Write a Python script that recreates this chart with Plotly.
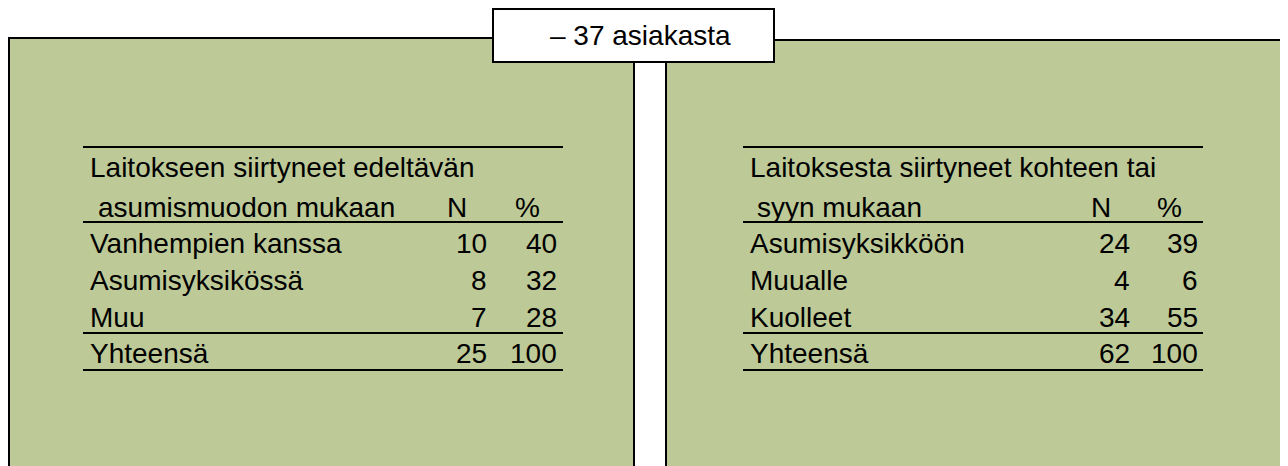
import plotly.graph_objects as go

# ---- data ----
title_text = "– 37 asiakasta"

left_header = ["Laitokseen siirtyneet edeltävän", "asumismuodon mukaan"]
left_rows = ["Vanhempien kanssa", "Asumisyksikössä", "Muu"]
left_n = [10, 8, 7]
left_pct = [40, 32, 28]
left_total_label = "Yhteensä"
left_total_n = 25
left_total_pct = 100

right_header = ["Laitoksesta siirtyneet kohteen tai", "syyn mukaan"]
right_rows = ["Asumisyksikköön", "Muualle", "Kuolleet"]
right_n = [24, 4, 34]
right_pct = [39, 6, 55]
right_total_label = "Yhteensä"
right_total_n = 62
right_total_pct = 100

col_headers = ["N", "%"]

# ---- layout / style ----
W, H = 1288, 466
OFF = 8  # page body margin
GREEN = "#BDCA97"
FONT = "Liberation Sans, Arial, sans-serif"
FS = 28

fig = go.Figure()
fig.add_trace(go.Scatter(x=[OFF, W], y=[OFF, H], mode="markers",
                         marker=dict(opacity=0), hoverinfo="skip", showlegend=False))

shapes = []
# panels
shapes.append(dict(type="rect", xref="x", yref="y", x0=9, x1=634, y0=38, y1=H + 20,
                   fillcolor=GREEN, line=dict(color="#000000", width=2), layer="below"))
shapes.append(dict(type="rect", xref="x", yref="y", x0=666, x1=W + 20, y0=40, y1=H + 20,
                   fillcolor=GREEN, line=dict(color="#000000", width=2), layer="below"))
# title box
shapes.append(dict(type="rect", xref="x", yref="y", x0=493, x1=774, y0=9, y1=62,
                   fillcolor="#FFFFFF", line=dict(color="#000000", width=2), layer="above"))

annotations = []


def ann(x, y, text, anchor="left"):
    annotations.append(dict(x=x, y=y, xref="x", yref="y", text=text, showarrow=False,
                            xanchor=anchor, yanchor="middle",
                            font=dict(family=FONT, size=FS, color="#000000")))


annotations.append(dict(x=640, y=35, xref="x", yref="y", text=title_text, showarrow=False,
                        xanchor="center", yanchor="middle",
                        font=dict(family=FONT, size=28, color="#000000")))

row_y = [243, 280, 317]
total_y = 353
h1_y, h2_y = 167, 207


def table(x_line0, x_line1, x_text, x_h2, x_nh, x_ph, x_n, x_p, header, rows, ns, pcts,
          tl, tn, tp):
    for yy in [147, 222, 333, 370]:
        shapes.append(dict(type="line", xref="x", yref="y", x0=x_line0, x1=x_line1,
                           y0=yy, y1=yy, line=dict(color="#000000", width=2)))
    ann(x_text, h1_y, header[0])
    ann(x_h2, h2_y, header[1])
    ann(x_nh, h2_y, col_headers[0], "center")
    ann(x_ph, h2_y, col_headers[1], "center")
    for lab, n, p, yy in zip(rows, ns, pcts, row_y):
        ann(x_text, yy, lab)
        ann(x_n, yy, str(n), "right")
        ann(x_p, yy, str(p), "right")
    ann(x_text, total_y, tl)
    ann(x_n, total_y, str(tn), "right")
    ann(x_p, total_y, str(tp), "right")


table(83, 563, 88, 96, 457, 527, 489, 559, left_header, left_rows, left_n, left_pct,
      left_total_label, left_total_n, left_total_pct)
table(743, 1203, 748, 755, 1101, 1169, 1132, 1200, right_header, right_rows, right_n,
      right_pct, right_total_label, right_total_n, right_total_pct)

fig.update_layout(
    width=W - OFF, height=H - OFF,
    margin=dict(l=0, r=0, t=0, b=0),
    paper_bgcolor="#FFFFFF", plot_bgcolor="#FFFFFF",
    xaxis=dict(range=[OFF, W], visible=False, fixedrange=True),
    yaxis=dict(range=[H, OFF], visible=False, fixedrange=True),
    shapes=shapes, annotations=annotations, showlegend=False,
)

fig.write_html("out.html")
